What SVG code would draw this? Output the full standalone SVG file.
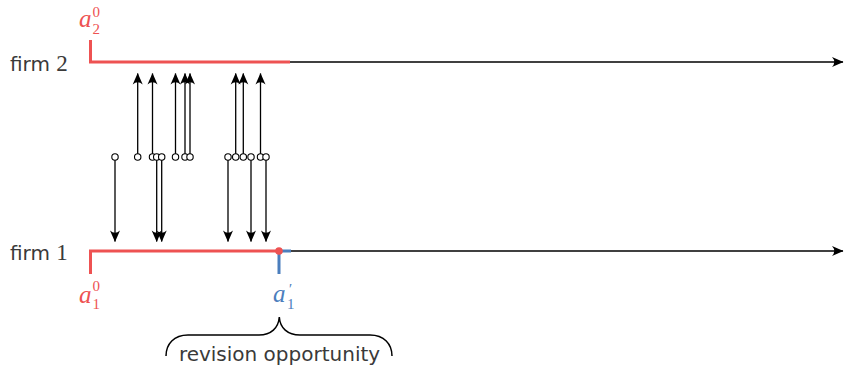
<svg xmlns="http://www.w3.org/2000/svg" width="845" height="368" viewBox="0 0 845 368">
<style>
.lbl{font-family:"DejaVu Sans","Liberation Sans",sans-serif;font-size:20px;fill:#3a3a3a}
.dig{font-family:"Liberation Serif","DejaVu Serif",serif;font-size:23px;fill:#3a3a3a}
.mi{font-family:"Liberation Serif","DejaVu Serif",serif;font-style:italic;font-size:25px}
.sc{font-family:"Liberation Serif","DejaVu Serif",serif;font-size:15px}
.axis{stroke:#000;stroke-width:1.3;fill:none}
.red{stroke:#EE5252;stroke-width:3;fill:none}
.blue{stroke:#4B7EBD;stroke-width:3;fill:none}
.arr{stroke:#000;stroke-width:1.3;fill:none}
.dot{fill:#fff;stroke:#000;stroke-width:1.1}
</style>
<defs>
<marker id="ah" viewBox="-12 -6 13 12" refX="0" refY="0" markerWidth="13" markerHeight="12" markerUnits="userSpaceOnUse" orient="auto">
<path d="M0.5,0 L-11,-5 Q-6.5,0 -11,5 Z" fill="#000"/>
</marker>
</defs>

<g id="firm2-axis">
<line class="axis" x1="90" y1="62" x2="843" y2="62" marker-end="url(#ah)"/>
<polyline class="red" points="90.5,40 90.5,62 290,62"/>
<text class="lbl" x="10" y="70.5">firm <tspan class="dig">2</tspan></text>
<text x="79" y="27" fill="#EE5252"><tspan class="mi">a</tspan><tspan class="sc" x="92.5" y="17">0</tspan><tspan class="sc" x="92.5" y="34">2</tspan></text>
</g>

<g id="firm1-axis">
<line class="axis" x1="279" y1="251" x2="843" y2="251" marker-end="url(#ah)"/>
<polyline class="red" points="90.5,274 90.5,251 279,251"/>
<polyline class="blue" points="279,274 279,251 291,251"/>
<circle cx="279" cy="251" r="3.8" fill="#EE5252"/>
<text class="lbl" x="10" y="259.7">firm <tspan class="dig">1</tspan></text>
<text x="79" y="303" fill="#EE5252"><tspan class="mi">a</tspan><tspan class="sc" x="92.5" y="291">0</tspan><tspan class="sc" x="92.5" y="309">1</tspan></text>
<text x="273" y="302" fill="#4B7EBD"><tspan class="mi">a</tspan><tspan class="mi" x="288" y="294" style="font-size:15px">′</tspan><tspan class="sc" x="287" y="309">1</tspan></text>
</g>

<g id="connectors">
<line class="arr" x1="115" y1="160" x2="115" y2="241.5" marker-end="url(#ah)"/>
<line class="arr" x1="137.7" y1="154" x2="137.7" y2="73.5" marker-end="url(#ah)"/>
<line class="arr" x1="152.5" y1="154" x2="152.5" y2="73.5" marker-end="url(#ah)"/>
<line class="arr" x1="156.7" y1="160" x2="156.7" y2="241.5" marker-end="url(#ah)"/>
<line class="arr" x1="161.7" y1="160" x2="161.7" y2="241.5" marker-end="url(#ah)"/>
<line class="arr" x1="175.5" y1="154" x2="175.5" y2="73.5" marker-end="url(#ah)"/>
<line class="arr" x1="185" y1="154" x2="185" y2="73.5" marker-end="url(#ah)"/>
<line class="arr" x1="190" y1="154" x2="190" y2="73.5" marker-end="url(#ah)"/>
<line class="arr" x1="228" y1="160" x2="228" y2="241.5" marker-end="url(#ah)"/>
<line class="arr" x1="235.7" y1="154" x2="235.7" y2="73.5" marker-end="url(#ah)"/>
<line class="arr" x1="243.3" y1="154" x2="243.3" y2="73.5" marker-end="url(#ah)"/>
<line class="arr" x1="251" y1="160" x2="251" y2="241.5" marker-end="url(#ah)"/>
<line class="arr" x1="260.5" y1="154" x2="260.5" y2="73.5" marker-end="url(#ah)"/>
<line class="arr" x1="266" y1="160" x2="266" y2="241.5" marker-end="url(#ah)"/>
</g>

<g id="revisions">
<circle class="dot" cx="115" cy="157" r="3.2"/>
<circle class="dot" cx="137.7" cy="157" r="3.2"/>
<circle class="dot" cx="152.5" cy="157" r="3.2"/>
<circle class="dot" cx="156.7" cy="157" r="3.2"/>
<circle class="dot" cx="161.7" cy="157" r="3.2"/>
<circle class="dot" cx="175.5" cy="157" r="3.2"/>
<circle class="dot" cx="185" cy="157" r="3.2"/>
<circle class="dot" cx="190" cy="157" r="3.2"/>
<circle class="dot" cx="228" cy="157" r="3.2"/>
<circle class="dot" cx="235.7" cy="157" r="3.2"/>
<circle class="dot" cx="243.3" cy="157" r="3.2"/>
<circle class="dot" cx="251" cy="157" r="3.2"/>
<circle class="dot" cx="260.5" cy="157" r="3.2"/>
<circle class="dot" cx="266" cy="157" r="3.2"/>
</g>

<g id="brace">
<path d="M166,356 C166,344 174,335 188,335 L259,335 C271,335 278.5,328 279.3,317 C280,328 287.5,335 300,335 L370,335 C384,335 392,344 392,356" fill="none" stroke="#000" stroke-width="1.5"/>
<text class="lbl" x="279.5" y="360.7" text-anchor="middle">revision opportunity</text>
</g>
</svg>
